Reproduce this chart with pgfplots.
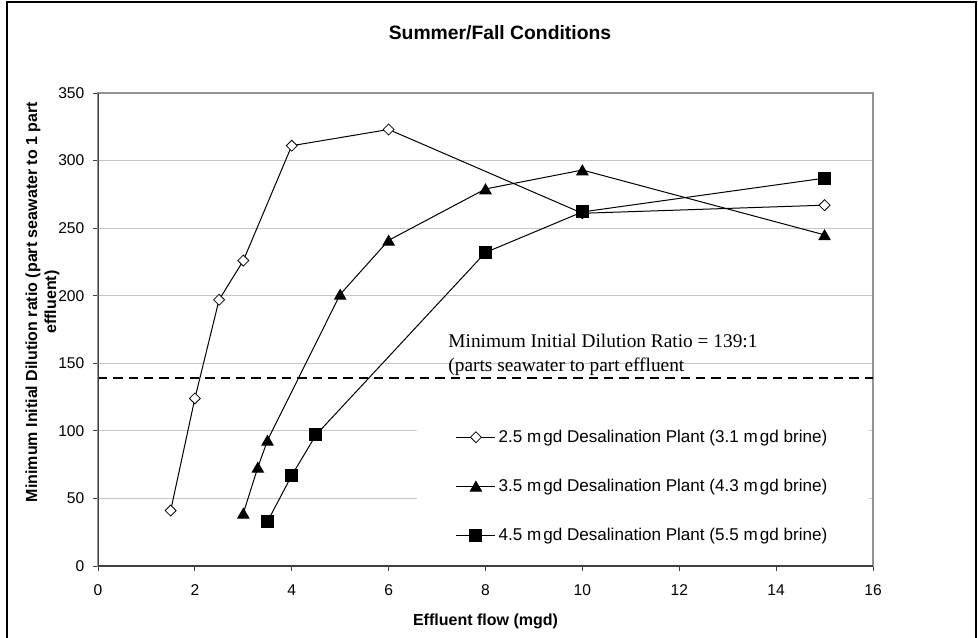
\documentclass[border=0pt]{standalone}
\usepackage{fontspec}
\setmainfont{Liberation Sans}
\newfontfamily\seriffont{Liberation Serif}
\usepackage{pgfplots}
\pgfplotsset{compat=1.18}
\newcommand{\mgd}{m\kern1.6pt gd}
\begin{document}
\begin{tikzpicture}
\begin{scope}[x=0.75pt,y=-0.75pt]
\path[use as bounding box] (0,0) rectangle (978,638);
\draw[line width=0.9pt] (7,642) -- (7,2) -- (976,2) -- (976,642);
\node[font=\bfseries\fontsize{14.5}{16}\selectfont] at (500,33) {Summer/Fall Conditions};
\node[rotate=90, align=center, font=\bfseries\fontsize{12}{14.2}\selectfont] at (42.5,302) {Minimum Initial Dilution ratio (part seawater to 1 part\\effluent)};
\end{scope}
\begin{axis}[
  at={(73.5pt,-424.5pt)}, anchor=south west,
  scale only axis, width=581.25pt, height=354.75pt,
  xmin=0, xmax=16, ymin=0, ymax=350,
  xtick={0,2,...,16}, ytick={0,50,...,350},
  ymajorgrids, grid style={draw=gray!45, line width=0.6pt},
  axis line style={draw=gray!85, line width=0.9pt},
  tick align=outside, xtick pos=left, ytick pos=left,
  major tick length=3.75pt,
  tick style={draw=black!75, line width=0.75pt},
  /pgf/number format/assume math mode=true,
  ticklabel style={font=\fontsize{11.7}{13}\selectfont},
  xticklabel style={yshift=-6.5pt},
  yticklabel style={xshift=-3pt},
  xlabel={Effluent flow (mgd)},
  xlabel style={at={(axis description cs:0.5,-0.117)}, anchor=center, font=\bfseries\fontsize{12}{14}\selectfont},
  legend style={at={(axis description cs:0.4116,0.319)}, anchor=north west, draw=none, fill=white,
    font=\fontsize{12.8}{14}\selectfont, row sep=22pt, inner xsep=29pt, inner ysep=9pt},
  legend cell align=left,
  legend image code/.code={\draw[mark repeat=2,mark phase=2,#1] plot coordinates {(0pt,0pt) (14.6pt,0pt) (29.25pt,0pt)};},
]
\addplot[black, line width=0.75pt, mark=square*, mark size=2.9pt, mark options={rotate=45, fill=white, solid, line width=0.6pt}]
  coordinates {(1.5,41) (2,124) (2.5,197) (3,226) (4,311) (6,323) (10,261) (15,267)};
\addlegendentry{2.5 \mgd{} Desalination Plant (3.1 \mgd{} brine)}
\addplot[black, line width=0.75pt, mark=triangle*, mark size=4.8pt, mark options={fill=black, solid, yshift=-1.2pt}]
  coordinates {(3,39) (3.3,73) (3.5,93) (5,201) (6,241) (8,279) (10,293) (15,245)};
\addlegendentry{3.5 \mgd{} Desalination Plant (4.3 \mgd{} brine)}
\addplot[black, line width=0.75pt, mark=square*, mark size=4.5pt, mark options={fill=black, solid}]
  coordinates {(3.5,33) (4,67) (4.5,97) (8,232) (10,262) (15,287)};
\addlegendentry{4.5 \mgd{} Desalination Plant (5.5 \mgd{} brine)}
\addplot[black, line width=1.4pt, dash pattern=on 7pt off 4.5pt, forget plot] coordinates {(0,139) (16,139)};
\draw[black!75, line width=0.9pt] (rel axis cs:0,1) -- (rel axis cs:0,0) -- (rel axis cs:1,0);
\node[font=\seriffont\fontsize{14.5}{16}\selectfont, anchor=base west, inner sep=0pt] at (axis cs:7.23,161.4) {Minimum Initial Dilution Ratio = 139:1};
\node[font=\seriffont\fontsize{14.5}{16}\selectfont, anchor=base west, inner sep=0pt] at (axis cs:7.23,143.6) {(parts seawater to part effluent};
\end{axis}
\end{tikzpicture}
\end{document}
